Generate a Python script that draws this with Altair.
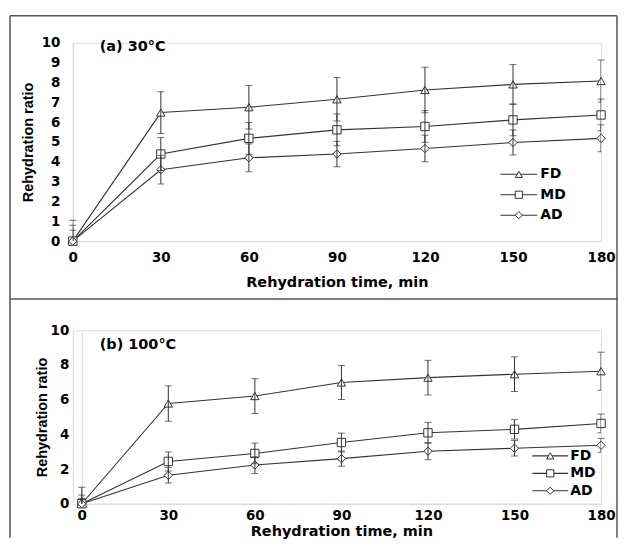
import altair as alt
import pandas as pd

time_min = [0, 30, 60, 90, 120, 150, 180]
series_names = ["FD", "MD", "AD"]

# panel (a) 30°C
a_fd = [0, 6.48, 6.75, 7.15, 7.62, 7.90, 8.07]
a_fd_err = [1.05, 1.05, 1.10, 1.10, 1.15, 1.00, 1.06]
a_md = [0, 4.39, 5.18, 5.61, 5.78, 6.11, 6.36]
a_md_err = [0.80, 0.83, 0.80, 0.80, 0.80, 0.80, 0.80]
a_ad = [0, 3.60, 4.20, 4.39, 4.67, 4.97, 5.18]
a_ad_err = [0.55, 0.72, 0.70, 0.64, 0.67, 0.63, 0.68]

# panel (b) 100°C
b_fd = [0, 5.78, 6.21, 6.99, 7.27, 7.47, 7.64]
b_fd_err = [0.95, 1.02, 1.00, 0.98, 1.00, 1.00, 1.10]
b_md = [0, 2.44, 2.90, 3.53, 4.09, 4.29, 4.63]
b_md_err = [0.50, 0.55, 0.60, 0.54, 0.60, 0.56, 0.54]
b_ad = [0, 1.64, 2.23, 2.60, 3.03, 3.20, 3.37]
b_ad_err = [0.30, 0.45, 0.48, 0.44, 0.50, 0.45, 0.40]

panel_titles = ["(a) 30°C", "(b) 100°C"]
x_ticks = [0, 30, 60, 90, 120, 150, 180]
y_ticks_a = [0, 1, 2, 3, 4, 5, 6, 7, 8, 9, 10]
y_ticks_b = [0, 2, 4, 6, 8, 10]
x_title = "Rehydration time, min"
y_title = "Rehydration ratio"

INK = "#333333"
FRAME = "#555555"
marker_shapes = ["triangle-up", "square", "diamond"]


def long_df(vals, errs):
    rows = []
    for s, v, e in zip(series_names, vals, errs):
        for t, vi, ei in zip(time_min, v, e):
            rows.append({"t": t, "series": s, "v": vi, "lo": vi - ei, "hi": vi + ei})
    return pd.DataFrame(rows)


def edge(x1, x2, y1, y2):
    return alt.Chart(pd.DataFrame({"k": [0]})).mark_rule(
        color=FRAME, strokeWidth=1.5).encode(
        x=alt.value(x1), x2=alt.value(x2), y=alt.value(y1), y2=alt.value(y2))


def panel(df, title, yticks, w, h, x_range, y_offset, edges_spec, ylab_pad, ytitle_pad,
          xlab_pad, xtitle_pad, title_pos, leg):
    xs = alt.Scale(domain=[0, 180], nice=False, zero=False, range=x_range)
    ys = alt.Scale(domain=[0, 10], nice=False)
    x_axis = alt.Axis(values=x_ticks, ticks=False, tickSize=0, grid=False, title=x_title,
                      labelPadding=xlab_pad, titlePadding=xtitle_pad, labelOverlap=False,
                      labelFont="DejaVu Sans", labelFontWeight="bold", labelFontSize=13.5,
                      labelColor="black", titleFont="DejaVu Sans", titleFontWeight="bold",
                      titleFontSize=14.5, titleColor="black", domainColor="#d9d9d9",
                      labelFlush=False)
    y_axis = alt.Axis(values=yticks, ticks=False, tickSize=0, grid=False, title=y_title,
                      labelPadding=ylab_pad, titlePadding=ytitle_pad, labelOverlap=False,
                      offset=y_offset,
                      labelFont="DejaVu Sans", labelFontWeight="bold", labelFontSize=13.5,
                      labelColor="black", titleFont="Liberation Sans", titleFontWeight="bold",
                      titleFontSize=14.5, titleColor="black", domainColor="#d9d9d9",
                      labelFlush=False)
    X = alt.X("t:Q", scale=xs, axis=x_axis)
    base = alt.Chart(df)
    lines = base.mark_line(color=INK, strokeWidth=1.1).encode(
        x=X, y=alt.Y("v:Q", scale=ys, axis=y_axis), detail="series:N")
    points = base.mark_point(filled=True, fill="white", stroke=INK, strokeWidth=1,
                             opacity=1, size=70).encode(
        x=X, y=alt.Y("v:Q", scale=ys, axis=y_axis),
        shape=alt.Shape("series:N", scale=alt.Scale(domain=series_names, range=marker_shapes),
                        legend=None),
    )
    err = base.mark_rule(color=INK, strokeWidth=1, clip=True).encode(
        x=X, y=alt.Y("lo:Q", scale=ys, axis=y_axis), y2="hi:Q")
    cap_hi = base.mark_tick(color=INK, orient="horizontal", size=7, thickness=1).encode(
        x=X, y=alt.Y("hi:Q", scale=ys, axis=y_axis))
    cap_lo = base.mark_tick(color=INK, orient="horizontal", size=7, thickness=1,
                            clip=True).encode(x=X, y=alt.Y("lo:Q", scale=ys, axis=y_axis))
    data_layer = alt.layer(lines, points, err, cap_hi, cap_lo)

    # legend drawn as marks: line, marker, label per series
    leg_df = pd.DataFrame({"series": series_names})
    leg_y = alt.Y("series:N", axis=None,
                  scale=alt.Scale(type="point", domain=series_names, range=leg["rows"],
                                  padding=0))
    leg_line = alt.Chart(leg_df).mark_rule(color=INK, strokeWidth=1.1).encode(
        x=alt.value(leg["x1"]), x2=alt.value(leg["x2"]), y=leg_y)
    leg_pts = alt.Chart(leg_df).mark_point(filled=True, fill="white", stroke=INK,
                                           strokeWidth=1, opacity=1, size=52).encode(
        x=alt.value((leg["x1"] + leg["x2"]) / 2), y=leg_y,
        shape=alt.Shape("series:N", scale=alt.Scale(domain=series_names, range=marker_shapes),
                        legend=None))
    leg_txt = alt.Chart(leg_df).mark_text(align="left", baseline="middle", font="DejaVu Sans",
                                          fontWeight="bold", fontSize=14, color="black").encode(
        x=alt.value(leg["xt"]), y=leg_y, text="series:N")
    legend_layer = alt.layer(leg_line, leg_pts, leg_txt)

    label = alt.Chart(pd.DataFrame({"label": [title]})).mark_text(
        align="left", baseline="alphabetic", font="DejaVu Sans", fontWeight="bold",
        fontSize=14.5, color="black").encode(
        x=alt.value(title_pos[0]), y=alt.value(title_pos[1]), text="label:N")
    edges = [edge(*e) for e in edges_spec]
    return alt.layer(*edges, data_layer, legend_layer, label).resolve_scale(
        y="independent").properties(width=w, height=h)


# panel (a): plot area 530 x 199
edges_a = [(-63, 546, -27, -27), (-63, 546, 257, 257), (-63, -63, -27, 257), (546, 546, -27, 257)]
pa = panel(long_df([a_fd, a_md, a_ad], [a_fd_err, a_md_err, a_ad_err]), panel_titles[0],
           y_ticks_a, 530, 199, [0, 530], 0, edges_a, 13, 6, 9, 12.5, (27, 8),
           {"x1": 429, "x2": 466, "xt": 469, "rows": [132, 173]})

# panel (b): plot area starts 9px further right
hb = 174
edges_b = [(-63, -63, -32, hb + 34), (546, 546, -32, hb + 34)]
pb = panel(long_df([b_fd, b_md, b_ad], [b_fd_err, b_md_err, b_ad_err]), panel_titles[1],
           y_ticks_b, 530, hb, [9, 530], -9, edges_b, 13, 1, 5, 2, (27, 19),
           {"x1": 461, "x2": 497, "xt": 499, "rows": [126, 161]})

chart = alt.concat(pa, pb, columns=1, spacing=89.5, bounds="flush").properties(
    padding={"left": 0, "top": 5, "right": 0, "bottom": 0}
).configure_view(stroke=None).configure(background="white")

chart.save("out.html", embed_options={"renderer": "svg", "actions": False})
